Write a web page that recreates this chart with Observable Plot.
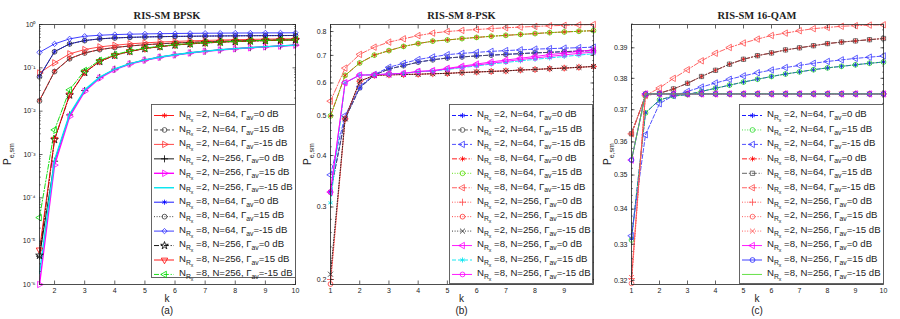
<!DOCTYPE html>
<html><head><meta charset="utf-8">
<script src="https://cdn.jsdelivr.net/npm/d3@7"></script>
<script src="https://cdn.jsdelivr.net/npm/@observablehq/plot@0.6"></script>
<style>
html,body{margin:0;padding:0;background:#fff;}
#wrap{position:relative;width:900px;height:319px;overflow:hidden;font-family:"Liberation Sans",Arial,sans-serif;}
#wrap > svg{position:absolute;top:0;}
</style></head><body><div id="wrap"></div>
<script>
// ---------- DATA ----------
const titles = ["RIS-SM BPSK", "RIS-SM 8-PSK", "RIS-SM 16-QAM"];
const panelTags = ["(a)", "(b)", "(c)"];

// (a) BPSK
const bpskK = [1.5,2,2.5,3,3.5,4,4.5,5,5.5,6,6.5,7,7.5,8,8.5,9,9.5,10];
const bpskNrx = [2,2,2,2,2,2,8,8,8,8,8,8];
const bpskN = [64,64,64,256,256,256,64,64,64,256,256,256];
const bpskGamma = [0,15,-15,0,15,-15,0,15,-15,0,15,-15];
const bpsk_r2_n64_g0   = [0.0177,0.083,0.163,0.221,0.264,0.295,0.32,0.341,0.359,0.374,0.388,0.4,0.41,0.419,0.427,0.434,0.44,0.446];
const bpsk_r2_n64_g15  = [0.0172,0.082,0.162,0.22,0.263,0.294,0.319,0.34,0.358,0.373,0.387,0.399,0.409,0.418,0.426,0.433,0.439,0.445];
const bpsk_r2_n64_gm15 = [0.076,0.13,0.21,0.264,0.304,0.332,0.357,0.377,0.393,0.407,0.419,0.429,0.438,0.446,0.453,0.459,0.465,0.47];
const bpsk_r2_n256_g0  = [4.5e-6,7e-4,8.2e-3,0.03,0.06,0.093,0.124,0.152,0.177,0.2,0.222,0.242,0.26,0.277,0.292,0.307,0.32,0.334];
const bpsk_r2_n256_g15 = [1e-6,5.7e-4,7.5e-3,0.0286,0.058,0.091,0.122,0.15,0.175,0.198,0.22,0.24,0.258,0.275,0.29,0.305,0.318,0.332];
const bpsk_r2_n256_gm15= [1.8e-6,7.5e-4,8.6e-3,0.031,0.061,0.094,0.125,0.153,0.178,0.201,0.223,0.243,0.261,0.278,0.293,0.308,0.321,0.335];
const bpsk_r8_n64_g0   = [0.0635,0.237,0.357,0.426,0.467,0.49,0.505,0.516,0.524,0.531,0.536,0.541,0.545,0.548,0.551,0.554,0.556,0.558];
const bpsk_r8_n64_g15  = [0.062,0.235,0.356,0.425,0.466,0.489,0.504,0.515,0.523,0.53,0.535,0.54,0.544,0.547,0.55,0.553,0.555,0.557];
const bpsk_r8_n64_gm15 = [0.228,0.357,0.467,0.536,0.565,0.585,0.598,0.607,0.614,0.62,0.625,0.629,0.632,0.635,0.637,0.639,0.641,0.643];
const bpsk_r8_n256_g0  = [4.7e-6,2.2e-3,0.0235,0.078,0.14,0.194,0.239,0.277,0.309,0.335,0.357,0.375,0.39,0.403,0.414,0.424,0.433,0.44];
const bpsk_r8_n256_g15 = [6.3e-6,2.25e-3,0.0239,0.079,0.141,0.195,0.24,0.278,0.31,0.336,0.358,0.376,0.391,0.404,0.415,0.425,0.434,0.441];
const bpsk_r8_n256_gm15= [3.5e-5,3.7e-3,0.031,0.087,0.149,0.202,0.246,0.285,0.316,0.342,0.363,0.381,0.396,0.409,0.42,0.43,0.438,0.445];
const bpskYTicks = [1e-6,1e-5,1e-4,1e-3,1e-2,1e-1,1];
const bpskXTicks = [2,3,4,5,6,7,8,9,10];

// (b) 8-PSK
const pskK = [1,1.5,2,2.5,3,3.5,4,4.5,5,5.5,6,6.5,7,7.5,8,8.5,9,9.5,10];
const pskNrx = [2,2,2,8,8,8,2,2,2,8,8,8];
const pskN = [64,64,64,64,64,64,256,256,256,256,256,256];
const pskGamma = [0,15,-15,0,15,-15,0,15,-15,0,15,-15];
const psk_r2_n64_g0   = [0.326,0.491,0.584,0.627,0.649,0.661,0.674,0.683,0.69,0.694,0.698,0.701,0.704,0.707,0.71,0.712,0.715,0.717,0.719];
const psk_r2_n64_g15  = [0.326,0.491,0.584,0.627,0.649,0.661,0.674,0.683,0.69,0.694,0.698,0.701,0.704,0.707,0.71,0.712,0.715,0.717,0.719];
const psk_r2_n64_gm15 = [0.359,0.5,0.588,0.629,0.655,0.67,0.684,0.694,0.703,0.708,0.712,0.716,0.719,0.722,0.725,0.727,0.729,0.731,0.733];
const psk_r8_n64_g0   = [0.499,0.626,0.671,0.701,0.719,0.736,0.748,0.758,0.763,0.769,0.774,0.779,0.783,0.787,0.791,0.795,0.798,0.801,0.804];
const psk_r8_n64_g15  = [0.499,0.626,0.671,0.701,0.719,0.736,0.748,0.758,0.763,0.769,0.774,0.779,0.783,0.787,0.791,0.795,0.798,0.801,0.804];
const psk_r8_n64_gm15 = [0.542,0.652,0.704,0.733,0.754,0.768,0.782,0.793,0.8,0.805,0.809,0.813,0.817,0.82,0.823,0.826,0.828,0.83,0.832];
const psk_r2_n256_g0  = [0.2,0.491,0.606,0.626,0.628,0.629,0.63,0.632,0.633,0.636,0.638,0.64,0.642,0.645,0.647,0.65,0.652,0.655,0.658];
const psk_r2_n256_g15 = [0.195,0.491,0.606,0.626,0.628,0.629,0.63,0.632,0.633,0.636,0.638,0.64,0.642,0.645,0.647,0.65,0.652,0.655,0.658];
const psk_r2_n256_gm15= [0.206,0.491,0.606,0.626,0.628,0.629,0.63,0.632,0.633,0.636,0.638,0.64,0.642,0.645,0.647,0.65,0.652,0.655,0.658];
const psk_r8_n256_g0  = [0.326,0.601,0.627,0.628,0.631,0.633,0.64,0.643,0.651,0.659,0.667,0.675,0.682,0.689,0.696,0.703,0.709,0.716,0.722];
const psk_r8_n256_g15 = [0.307,0.601,0.627,0.628,0.631,0.633,0.639,0.641,0.647,0.654,0.66,0.667,0.673,0.679,0.685,0.69,0.696,0.701,0.707];
const psk_r8_n256_gm15= [0.326,0.601,0.627,0.628,0.631,0.633,0.64,0.642,0.649,0.656,0.663,0.67,0.677,0.684,0.69,0.696,0.702,0.708,0.713];
const pskYTicks = [0.2,0.3,0.4,0.5,0.6,0.7,0.8];
const pskXTicks = [1,2,3,4,5,6,7,8,9];

// (c) 16-QAM
const qamK = [1,1.5,2,2.5,3,3.5,4,4.5,5,5.5,6,6.5,7,7.5,8,8.5,9,9.5,10];
const qamNrx = [2,2,2,8,8,8,2,2,2,8,8,8];
const qamN = [64,64,64,64,64,64,256,256,256,256,256,256];
const qamGamma = [0,15,-15,0,15,-15,0,15,-15,0,15,-15];
const qam_r2_n64_g0   = [0.3315,0.369,0.3731,0.3743,0.3748,0.3758,0.3768,0.3778,0.3788,0.3797,0.3806,0.3814,0.3821,0.3828,0.3834,0.3839,0.3844,0.3849,0.3853];
const qam_r2_n64_g15  = [0.3312,0.369,0.3731,0.3743,0.3748,0.3758,0.3768,0.3778,0.3788,0.3797,0.3806,0.3814,0.3821,0.3828,0.3834,0.3839,0.3844,0.3849,0.3853];
const qam_r2_n64_gm15 = [0.3324,0.3622,0.3719,0.3745,0.3758,0.3772,0.3785,0.3797,0.3808,0.3818,0.3827,0.3835,0.3842,0.3849,0.3855,0.386,0.3865,0.3869,0.3873];
const qam_r8_n64_g0   = [0.3625,0.3745,0.3752,0.3766,0.3784,0.3806,0.3826,0.3846,0.3862,0.3874,0.3883,0.3893,0.39,0.3907,0.3914,0.3919,0.3923,0.3927,0.3931];
const qam_r8_n64_g15  = [0.3625,0.3745,0.3752,0.3766,0.3784,0.3806,0.3826,0.3846,0.3862,0.3874,0.3883,0.3893,0.39,0.3907,0.3914,0.3919,0.3923,0.3927,0.3931];
const qam_r8_n64_gm15 = [0.3625,0.3745,0.3769,0.38,0.3828,0.3857,0.3882,0.3901,0.3916,0.3929,0.3941,0.3949,0.3957,0.3964,0.3968,0.3972,0.3974,0.3976,0.3977];
const qam_r2_n256_g0  = [0.3205,0.375,0.375,0.375,0.375,0.375,0.375,0.375,0.375,0.375,0.375,0.375,0.375,0.375,0.375,0.375,0.375,0.375,0.375];
const qam_r2_n256_g15 = [0.3192,0.375,0.375,0.375,0.375,0.375,0.375,0.375,0.375,0.375,0.375,0.375,0.375,0.375,0.375,0.375,0.375,0.375,0.375];
const qam_r2_n256_gm15= [0.3208,0.375,0.375,0.375,0.375,0.375,0.375,0.375,0.375,0.375,0.375,0.375,0.375,0.375,0.375,0.375,0.375,0.375,0.375];
const qam_r8_n256_g0  = [0.3545,0.375,0.375,0.375,0.375,0.375,0.375,0.375,0.375,0.375,0.375,0.375,0.375,0.375,0.375,0.375,0.375,0.375,0.375];
const qam_r8_n256_g15 = [0.3545,0.375,0.375,0.375,0.375,0.375,0.375,0.375,0.375,0.375,0.375,0.375,0.375,0.375,0.375,0.375,0.375,0.375,0.375];
const qam_r8_n256_gm15= [0.3545,0.375,0.375,0.375,0.375,0.375,0.375,0.375,0.375,0.375,0.375,0.375,0.375,0.375,0.375,0.375,0.375,0.375,0.375];
const qamYTicks = [0.32,0.33,0.34,0.35,0.36,0.37,0.38,0.39];
const qamXTicks = [1,2,3,4,5,6,7,8,9,10];

// ---------- STYLES ----------
const DASH = "4,2", DOT = "1,1.6", DASHDOT = "5,1.8,1.2,1.8";
const stylesA = [
  {c:"#ff0000", d:null, s:"asterisk"},
  {c:"#444444", d:DASH, s:"circle"},
  {c:"#ff3333", d:null, s:"triangle", rot:90},
  {c:"#000000", d:null, s:"plus"},
  {c:"#ff00ff", d:null, s:"triangle", rot:90, w:1.4},
  {c:"#00e5f0", d:null, s:null, w:1.4},
  {c:"#0000ff", d:null, s:"asterisk"},
  {c:"#333333", d:DOT, s:"circle"},
  {c:"#2a2aff", d:null, s:"diamond2"},
  {c:"#000000", d:DASHDOT, s:"star"},
  {c:"#ff0000", d:null, s:"triangle", rot:180},
  {c:"#00dd00", d:DASHDOT, s:"triangle", rot:-90}
];
const stylesB = [
  {c:"#0000ff", d:DASH, s:"asterisk"},
  {c:"#555555", d:DASH, s:"circle"},
  {c:"#3d3dff", d:DASH, s:"triangle", rot:-90},
  {c:"#ff0000", d:DASHDOT, s:"asterisk"},
  {c:"#55dd00", d:DOT, s:"circle"},
  {c:"#ff4d4d", d:DASHDOT, s:"triangle", rot:-90},
  {c:"#ff4d4d", d:DOT, s:"plus"},
  {c:"#ff3333", d:DOT, s:"circle"},
  {c:"#222222", d:DOT, s:"times"},
  {c:"#ff00ff", d:null, s:"triangle", rot:-90},
  {c:"#00e5f0", d:DASH, s:"asterisk"},
  {c:"#ff00ff", d:null, s:"circle"}
];
const stylesC = [
  {c:"#0000ff", d:DASH, s:"asterisk"},
  {c:"#33dd33", d:DOT, s:"circle"},
  {c:"#3d3dff", d:DASH, s:"triangle", rot:-90},
  {c:"#ff0000", d:DASHDOT, s:"asterisk"},
  {c:"#555555", d:DASHDOT, s:"square"},
  {c:"#ff5050", d:DASHDOT, s:"triangle", rot:-90},
  {c:"#ff5050", d:DOT, s:"plus"},
  {c:"#ff5050", d:DOT, s:"circle"},
  {c:"#ff5050", d:DOT, s:"times"},
  {c:"#ff00ff", d:null, s:"triangle", rot:-90},
  {c:"#2a2aff", d:null, s:"circle"},
  {c:"#55dd33", d:null, s:null}
];

const panels = [
  {left:0, ml:39, mr:5, k:bpskK, nrx:bpskNrx, n:bpskN, g:bpskGamma,
   series:[bpsk_r2_n64_g0,bpsk_r2_n64_g15,bpsk_r2_n64_gm15,bpsk_r2_n256_g0,bpsk_r2_n256_g15,bpsk_r2_n256_gm15,
           bpsk_r8_n64_g0,bpsk_r8_n64_g15,bpsk_r8_n64_gm15,bpsk_r8_n256_g0,bpsk_r8_n256_g15,bpsk_r8_n256_gm15],
   styles:stylesA, xdom:[1.5,10], ydom:[1e-6,1], yt:bpskYTicks, xt:bpskXTicks,
   yfmt: d => { const e = Math.round(Math.log10(d)); const sup = {"-":"⁻","0":"⁰","1":"¹","2":"²","3":"³","4":"⁴","5":"⁵","6":"⁶"}; return "10" + String(e).split("").map(c=>sup[c]).join(""); },
   minor: d3.range(-6,0).flatMap(e => d3.range(2,10).map(m => m*Math.pow(10,e))),
   legend:{x:151, y:104, w:144, h:173}},
  {left:300, ml:30, mr:7, k:pskK, nrx:pskNrx, n:pskN, g:pskGamma,
   series:[psk_r2_n64_g0,psk_r2_n64_g15,psk_r2_n64_gm15,psk_r8_n64_g0,psk_r8_n64_g15,psk_r8_n64_gm15,
           psk_r2_n256_g0,psk_r2_n256_g15,psk_r2_n256_gm15,psk_r8_n256_g0,psk_r8_n256_g15,psk_r8_n256_gm15],
   styles:stylesB, xdom:[1,10], ydom:[0.1945,0.832], yt:pskYTicks, xt:pskXTicks,
   yfmt: d => d.toFixed(1),
   minor: d3.range(0.2,0.83,0.02),
   legend:{x:449, y:104, w:143, h:179}},
  {left:600, ml:31, mr:17, k:qamK, nrx:qamNrx, n:qamN, g:qamGamma,
   series:[qam_r2_n64_g0,qam_r2_n64_g15,qam_r2_n64_gm15,qam_r8_n64_g0,qam_r8_n64_g15,qam_r8_n64_gm15,
           qam_r2_n256_g0,qam_r2_n256_g15,qam_r2_n256_gm15,qam_r8_n256_g0,qam_r8_n256_g15,qam_r8_n256_gm15],
   styles:stylesC, xdom:[1,10], ydom:[0.3189,0.3978], yt:qamYTicks, xt:qamXTicks,
   yfmt: d => d.toFixed(2),
   minor: d3.range(0.32,0.398,0.002),
   legend:{x:739, y:104, w:144, h:179}}
];

const wrap = document.getElementById("wrap");
const W = 300, H = 319, MT = 24, MB = 35;
const R = 2.4;

panels.forEach((p, pi) => {
  const marks = [];
  p.series.forEach((vals, i) => {
    const st = p.styles[i];
    const data = p.k.map((k, j) => ({k, v: vals[j]}));
    marks.push(Plot.line(data, {x:"k", y:"v", stroke: st.c, strokeWidth: st.w || 0.9, strokeDasharray: st.d || undefined, clip: true}));
    if (st.s) marks.push(Plot.dot(data, {x:"k", y:"v", symbol: st.s, rotate: st.rot || 0, r: R, stroke: st.c, fill: "none", strokeWidth: 0.8}));
  });
  const svg = Plot.plot({
    width: W, height: H, marginLeft: p.ml, marginRight: p.mr, marginTop: MT, marginBottom: MB,
    style: {fontFamily: "'Liberation Sans', Arial, sans-serif", fontSize: "7px", background: "white", color: "#222"},
    x: {domain: p.xdom, axis: null, label: null},
    y: {type: "log", domain: p.ydom, axis: null, label: null},
    marks: [
      ...marks,
      Plot.frame({stroke: "#222", strokeWidth: 0.8}),
      Plot.axisX({ticks: p.xt, tickSize: 0, tickPadding: 4, label: null, tickFormat: d => String(d)}),
      Plot.axisX({ticks: p.xt, tickSize: -3.5, label: null, tickFormat: () => "", strokeWidth: 0.7}),
      Plot.axisX({anchor: "top", ticks: p.xt, tickSize: -3.5, label: null, tickFormat: () => "", strokeWidth: 0.7}),
      Plot.axisY({ticks: p.yt, tickSize: 0, tickPadding: 4, label: null, tickFormat: p.yfmt}),
      Plot.axisY({ticks: p.yt, tickSize: -3.5, label: null, tickFormat: () => "", strokeWidth: 0.7}),
      Plot.axisY({anchor: "right", ticks: p.yt, tickSize: -3.5, label: null, tickFormat: () => "", strokeWidth: 0.7}),
      Plot.axisY({ticks: p.minor, tickSize: -2, label: null, tickFormat: () => "", strokeWidth: 0.5}),
      Plot.axisY({anchor: "right", ticks: p.minor, tickSize: -2, label: null, tickFormat: () => "", strokeWidth: 0.5})
    ]
  });
  svg.style.left = p.left + "px";
  wrap.appendChild(svg);
});

// ---------- overlay: titles, labels, legends ----------
const ov = d3.select(wrap).append("svg").attr("width", 900).attr("height", 319)
  .style("position", "absolute").style("left", "0px").style("top", "0px")
  .attr("font-family", "'Liberation Sans', Arial, sans-serif");

const symMap = {asterisk: d3.symbolAsterisk, circle: d3.symbolCircle, plus: d3.symbolPlus, times: d3.symbolTimes,
  diamond2: d3.symbolDiamond2, star: d3.symbolStar, triangle: d3.symbolTriangle, square: d3.symbolSquare};

panels.forEach((p, pi) => {
  const cx = p.left + p.ml + (W - p.ml - p.mr) / 2;
  ov.append("text").attr("x", cx).attr("y", 19).attr("text-anchor", "middle")
    .attr("font-family", "'Liberation Serif', 'Times New Roman', serif").attr("font-weight", "bold")
    .attr("font-size", 10.5).attr("fill", "#222").text(titles[pi]);
  ov.append("text").attr("x", cx).attr("y", 302).attr("text-anchor", "middle").attr("font-size", 10).attr("fill", "#222").text("k");
  ov.append("text").attr("x", cx).attr("y", 314).attr("text-anchor", "middle").attr("font-size", 10).attr("fill", "#222").text(panelTags[pi]);
  // y label
  const yl = ov.append("text").attr("transform", `translate(${p.left + 11},154) rotate(-90)`)
    .attr("text-anchor", "middle").attr("font-size", 10).attr("fill", "#222");
  yl.append("tspan").text("P");
  yl.append("tspan").attr("font-size", 7).attr("dy", 2.5).text("e,sm");

  // legend
  const L = p.legend;
  ov.append("rect").attr("x", L.x + 0.5).attr("y", L.y + 0.5).attr("width", L.w).attr("height", L.h)
    .attr("fill", "white").attr("stroke", "#555").attr("stroke-width", 0.9);
  p.styles.forEach((st, i) => {
    const y = L.y + 11.5 + i * 14.45;
    ov.append("line").attr("x1", L.x + 3).attr("x2", L.x + 23).attr("y1", y).attr("y2", y)
      .attr("stroke", st.c).attr("stroke-width", st.w || 0.9).attr("stroke-dasharray", st.d || null);
    if (st.s) ov.append("path").attr("d", d3.symbol(symMap[st.s], Math.PI * R * R)())
      .attr("transform", `translate(${L.x + 13.5},${y}) rotate(${st.rot || 0})`)
      .attr("fill", "none").attr("stroke", st.c).attr("stroke-width", 0.8);
    const t = ov.append("text").attr("x", L.x + 28).attr("y", y + 1.8).attr("font-size", 9.6).attr("fill", "#222");
    t.append("tspan").text("N");
    t.append("tspan").attr("font-size", 6.8).attr("dy", 2.8).text("R");
    t.append("tspan").attr("font-size", 5.2).attr("dy", 1.9).text("x");
    t.append("tspan").attr("dy", -4.7).text(` =${p.nrx[i]}, N=${p.n[i]}, Γ`);
    t.append("tspan").attr("font-size", 6.8).attr("dy", 2.8).text("av");
    t.append("tspan").attr("dy", -2.8).text(`=${p.g[i]} dB`);
  });
});
</script></body></html>
